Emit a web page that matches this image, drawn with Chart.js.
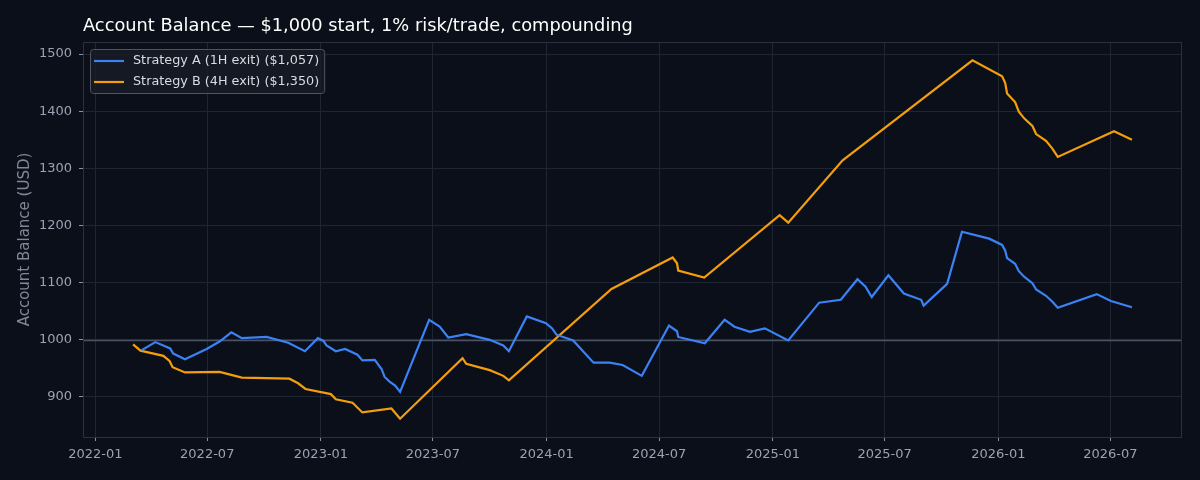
<!DOCTYPE html>
<html>
<head>
<meta charset="utf-8">
<script src="https://cdn.jsdelivr.net/npm/chart.js@4.4.1/dist/chart.umd.min.js"></script>
<style>
  html, body { margin: 0; padding: 0; background: #0b0f19; }
  #wrap { width: 1200px; height: 480px; position: relative; }
</style>
</head>
<body>
<div id="wrap"><canvas id="balance-chart"></canvas></div>
<script>
// Chart data
const titleText = 'Account Balance \u2014 $1,000 start, 1% risk/trade, compounding';
const seriesLabels = ['Strategy A (1H exit) ($1,057)', 'Strategy B (4H exit) ($1,350)'];
const seriesColors = ['#3b82f6', '#f59e0b'];

const aDates = [
  '2022-03-17', '2022-04-08', '2022-05-02', '2022-05-07', '2022-05-26', '2022-06-30', '2022-07-21',
  '2022-08-09', '2022-08-26', '2022-10-05', '2022-11-09', '2022-12-06', '2022-12-27', '2023-01-05',
  '2023-01-10', '2023-01-25', '2023-02-09', '2023-03-01', '2023-03-09', '2023-03-29', '2023-04-09',
  '2023-04-14', '2023-04-22', '2023-05-01', '2023-05-09', '2023-06-25', '2023-07-12', '2023-07-26',
  '2023-08-24', '2023-10-01', '2023-10-23', '2023-11-01', '2023-11-30', '2023-12-31', '2024-01-10',
  '2024-01-17', '2024-02-13', '2024-03-17', '2024-04-12', '2024-05-03', '2024-06-03', '2024-07-17',
  '2024-07-30', '2024-08-01', '2024-09-13', '2024-10-15', '2024-10-31', '2024-11-25', '2024-12-19',
  '2025-01-26', '2025-03-17', '2025-04-21', '2025-05-18', '2025-05-31', '2025-06-10', '2025-07-07',
  '2025-08-01', '2025-08-29', '2025-09-02', '2025-10-10', '2025-11-03', '2025-12-17', '2026-01-07',
  '2026-01-12', '2026-01-15', '2026-01-28', '2026-02-03', '2026-02-12', '2026-02-25', '2026-03-03',
  '2026-03-19', '2026-03-29', '2026-04-07', '2026-06-09', '2026-07-02', '2026-08-05'
];
const aValues = [
  982, 996, 985, 976, 966, 984, 997,
  1013, 1003, 1005, 995, 980, 1003, 998,
  990, 980, 984, 974, 964, 965, 949,
  935, 927, 920, 909, 1035, 1023, 1004,
  1010, 1000, 990, 980, 1041, 1029, 1020,
  1009, 999, 960, 960, 956, 937, 1025,
  1015, 1005, 994, 1035, 1023, 1014, 1020,
  999, 1065, 1070, 1106, 1093, 1075, 1113,
  1081, 1070, 1060, 1098, 1189, 1177, 1166,
  1156, 1143, 1133, 1120, 1110, 1099, 1088,
  1077, 1067, 1056, 1080, 1068, 1057
];

const bDates = [
  '2022-03-03', '2022-03-15', '2022-04-21', '2022-05-01', '2022-05-06', '2022-05-26', '2022-07-21',
  '2022-08-26', '2022-11-11', '2022-11-25', '2022-12-07', '2023-01-17', '2023-01-25', '2023-02-21',
  '2023-03-09', '2023-04-25', '2023-05-09', '2023-08-18', '2023-08-24', '2023-10-01', '2023-10-23',
  '2023-11-01', '2024-04-15', '2024-07-23', '2024-07-30', '2024-08-01', '2024-09-12', '2025-01-12',
  '2025-01-26', '2025-04-24', '2025-11-20', '2026-01-07', '2026-01-12', '2026-01-15', '2026-01-28',
  '2026-02-03', '2026-02-12', '2026-02-25', '2026-03-03', '2026-03-19', '2026-03-29', '2026-04-07',
  '2026-07-07', '2026-08-05'
];
const bValues = [
  992, 981, 972, 963, 952, 943, 944,
  934, 932, 924, 914, 905, 896, 890,
  873, 880, 862, 968, 958, 947, 937,
  929, 1089, 1144, 1134, 1121, 1109, 1218,
  1205, 1314, 1489, 1461, 1449, 1431, 1416,
  1399, 1387, 1374, 1360, 1348, 1335, 1320,
  1365, 1350
];

const xTickDates = ['2022-01-01', '2022-07-01', '2023-01-01', '2023-07-01', '2024-01-01',
                    '2024-07-01', '2025-01-01', '2025-07-01', '2026-01-01', '2026-07-01'];
const yTickValues = [900, 1000, 1100, 1200, 1300, 1400, 1500];
const xRange = ['2021-12-12', '2026-10-25'];
const yRange = [830, 1521];
const baseline = 1000;

function toTime(s) {
    return Date.parse(s + 'T00:00:00Z');
}

function monthLabel(v) {
    const d = new Date(v);
    return d.getUTCFullYear() + '-' + String(d.getUTCMonth() + 1).padStart(2, '0');
}

function points(dates, values) {
    return dates.map((d, i) => ({ x: toTime(d), y: values[i] }));
}

// Baseline, frame, title and boxed legend drawn on the canvas
const decorations = {
    id: 'decorations',
    beforeDatasetsDraw(chart) {
        const { ctx, chartArea: a, scales } = chart;
        const y = Math.round(scales.y.getPixelForValue(baseline)) + 0.5;
        ctx.save();
        ctx.strokeStyle = '#4a5366';
        ctx.lineWidth = 1.3;
        ctx.beginPath();
        ctx.moveTo(a.left, y);
        ctx.lineTo(a.right, y);
        ctx.stroke();

        ctx.strokeStyle = '#2a3040';
        ctx.lineWidth = 1;
        ctx.strokeRect(a.left + 0.5, a.top + 0.5, a.right - a.left - 1, a.bottom - a.top);
        ctx.restore();
    },
    afterDraw(chart) {
        const { ctx, chartArea: a } = chart;
        ctx.save();
        ctx.fillStyle = '#ffffff';
        ctx.font = '17.8px "DejaVu Sans"';
        ctx.textAlign = 'left';
        ctx.textBaseline = 'middle';
        ctx.fillText(titleText, a.left, 26);

        // legend
        ctx.font = '12.8px "DejaVu Sans"';
        const textW = Math.max(...seriesLabels.map(t => ctx.measureText(t).width));
        const bx = a.left + 7, by = a.top + 7;
        const bw = 43 + textW + 5, bh = 44;
        ctx.fillStyle = 'rgba(22, 27, 38, 0.8)';
        ctx.strokeStyle = '#50555f';
        ctx.lineWidth = 1;
        ctx.beginPath();
        ctx.roundRect(bx + 0.5, by + 0.5, bw, bh, 3);
        ctx.fill();
        ctx.stroke();
        seriesLabels.forEach((label, i) => {
            const cy = by + 12 + i * 21;
            ctx.strokeStyle = seriesColors[i];
            ctx.lineWidth = 2.2;
            ctx.beginPath();
            ctx.moveTo(bx + 4, cy);
            ctx.lineTo(bx + 34, cy);
            ctx.stroke();
            ctx.fillStyle = '#d9dce2';
            ctx.fillText(label, bx + 43, cy);
        });
        ctx.restore();
    }
};

Chart.defaults.font.family = '"DejaVu Sans", sans-serif';

const ctx = document.getElementById('balance-chart').getContext('2d');
window.balanceChart = new Chart(ctx, {
    type: 'line',
    data: {
        datasets: [
            {
                label: seriesLabels[0],
                data: points(aDates, aValues),
                borderColor: seriesColors[0],
                backgroundColor: seriesColors[0],
                borderWidth: 2.2,
                pointRadius: 0,
                tension: 0
            },
            {
                label: seriesLabels[1],
                data: points(bDates, bValues),
                borderColor: seriesColors[1],
                backgroundColor: seriesColors[1],
                borderWidth: 2.2,
                pointRadius: 0,
                tension: 0
            }
        ]
    },
    options: {
        responsive: true,
        maintainAspectRatio: false,
        animation: false,
        layout: { padding: { top: 42, right: 18, left: 0, bottom: 0 } },
        plugins: {
            legend: { display: false },
            tooltip: { enabled: false },
            title: { display: false }
        },
        scales: {
            x: {
                type: 'linear',
                min: toTime(xRange[0]),
                max: toTime(xRange[1]),
                afterBuildTicks: axis => { axis.ticks = xTickDates.map(d => ({ value: toTime(d) })); },
                afterFit: axis => { axis.height = 43; },
                border: { display: false },
                grid: { color: '#1e2533', tickColor: '#8a93a3', tickLength: 4, lineWidth: 1 },
                ticks: {
                    color: '#9aa3b3',
                    font: { size: 13 },
                    padding: 6,
                    maxRotation: 0,
                    autoSkip: false,
                    callback: v => monthLabel(v)
                }
            },
            y: {
                min: yRange[0],
                max: yRange[1],
                afterBuildTicks: axis => { axis.ticks = yTickValues.map(v => ({ value: v })); },
                afterFit: axis => { axis.width = 83; },
                border: { display: false },
                grid: { color: '#1e2533', tickColor: '#8a93a3', tickLength: 4, lineWidth: 1 },
                ticks: {
                    color: '#9aa3b3',
                    font: { size: 13 },
                    padding: 7,
                    callback: v => String(v)
                },
                title: {
                    display: true,
                    text: 'Account Balance (USD)',
                    color: '#7f8898',
                    font: { size: 15 },
                    padding: { top: 16, bottom: 0 }
                }
            }
        }
    },
    plugins: [decorations]
});
</script>
</body>
</html>
